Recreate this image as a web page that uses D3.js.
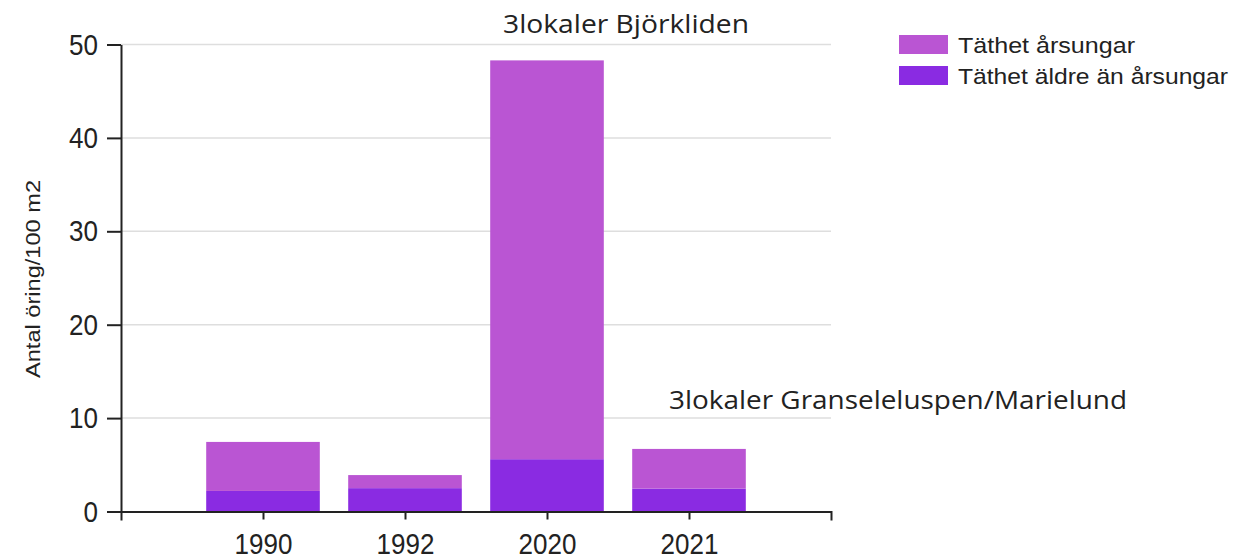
<!DOCTYPE html>
<html>
<head>
<meta charset="utf-8">
<script src="https://cdn.jsdelivr.net/npm/d3@7"></script>
<style>
  body { margin: 0; background: #fff; }
  text { font-family: "Liberation Sans", Arial, sans-serif; fill: #222; }
</style>
</head>
<body>
<div id="chart"></div>
<script>
const years = ["1990", "1992", "2020", "2021"];
const aldre = [2.2, 2.5, 5.6, 2.45];      // Täthet äldre än årsungar (bottom)
const arsungar = [5.25, 1.4, 42.7, 4.25]; // Täthet årsungar (top)
const yTicks = [0, 10, 20, 30, 40, 50];
const seriesNames = ["Täthet årsungar", "Täthet äldre än årsungar"];
const seriesColors = ["#BA55D3", "#8A2BE2"];

const width = 1235,
  height = 560;

const svg = d3.select("#chart").append("svg").attr("width", width).attr("height", height);

// the source image is a bit stretched vertically: measure text at its normal size,
// then draw it taller but squeeze it back to that width
function tallText(sel, size, tall) {
  sel.attr("font-size", size).each(function () {
    const w = this.getComputedTextLength();
    d3.select(this).attr("font-size", tall).attr("textLength", w).attr("lengthAdjust", "spacingAndGlyphs");
  });
}

const x = d3.scalePoint().domain(years).range([121, 831]).padding(1);
const y = d3.scaleLinear().domain([0, 50]).range([511.5, 44.5]);
const barW = x.step() * 0.8;

// gridlines
svg
  .append("g")
  .selectAll("line")
  .data(yTicks.slice(1))
  .join("line")
  .attr("x1", 121)
  .attr("x2", 831)
  .attr("y1", d => y(d))
  .attr("y2", d => y(d))
  .attr("stroke", "#dedede")
  .attr("stroke-width", 1.5);

// stacked bars
const rows = years.map((yr, i) => ({ year: yr, aldre: aldre[i], arsungar: arsungar[i] }));
const stack = d3.stack().keys(["aldre", "arsungar"])(rows);
const colorOf = { aldre: seriesColors[1], arsungar: seriesColors[0] };

svg
  .append("g")
  .selectAll("g")
  .data(stack)
  .join("g")
  .attr("fill", d => colorOf[d.key])
  .selectAll("rect")
  .data(d => d)
  .join("rect")
  .attr("x", d => x(d.data.year) - barW / 2)
  .attr("width", barW)
  .attr("y", d => y(d[1]))
  .attr("height", d => y(d[0]) - y(d[1]));

// x axis
const xAxis = svg
  .append("g")
  .attr("transform", `translate(0,${y(0)})`)
  .call(d3.axisBottom(x).tickSize(8).tickSizeOuter(9).tickPadding(13));
xAxis.select(".domain").attr("stroke", "#222").attr("stroke-width", 2);
xAxis.selectAll(".tick line").attr("stroke", "#222").attr("stroke-width", 2);
xAxis.selectAll("text").attr("fill", "#222").style("font-family", "Liberation Sans, Arial, sans-serif");
tallText(xAxis.selectAll("text"), 26, 30);

// y axis
const yAxis = svg
  .append("g")
  .attr("transform", "translate(121,0)")
  .call(d3.axisLeft(y).tickValues(yTicks).tickSize(14).tickSizeOuter(0).tickPadding(9));
yAxis.select(".domain").attr("stroke", "#222").attr("stroke-width", 2);
yAxis.selectAll(".tick line").attr("stroke", "#222").attr("stroke-width", 2);
yAxis.selectAll("text").attr("fill", "#222").style("font-family", "Liberation Sans, Arial, sans-serif");
tallText(yAxis.selectAll("text"), 26, 30);

// y title
svg
  .append("text")
  .attr("transform", "translate(40,279) rotate(-90)")
  .attr("text-anchor", "middle")
  .attr("font-size", 20)
  .attr("textLength", 198)
  .attr("lengthAdjust", "spacingAndGlyphs")
  .text("Antal öring/100 m2");

// titles
svg
  .append("text")
  .attr("x", 503)
  .attr("y", 33)
  .attr("font-size", 25)
  .style("font-family", "'Open Sans', sans-serif")
  .attr("fill", "#000")
  .attr("textLength", 246)
  .attr("lengthAdjust", "spacingAndGlyphs")
  .text("3lokaler Björkliden");

svg
  .append("text")
  .attr("x", 669)
  .attr("y", 409)
  .attr("font-size", 25)
  .style("font-family", "'Open Sans', sans-serif")
  .attr("fill", "#000")
  .attr("textLength", 458)
  .attr("lengthAdjust", "spacingAndGlyphs")
  .text("3lokaler Granseleluspen/Marielund");

// legend
const legendWidths = [177, 270];
const legend = svg
  .append("g")
  .selectAll("g")
  .data(seriesNames)
  .join("g")
  .attr("transform", (d, i) => `translate(899,${35 + i * 31})`);
legend
  .append("rect")
  .attr("width", 49)
  .attr("height", 19)
  .attr("fill", (d, i) => seriesColors[i]);
legend
  .append("text")
  .attr("x", 59)
  .attr("y", 18)
  .attr("font-size", 22)
  .attr("textLength", (d, i) => legendWidths[i])
  .attr("lengthAdjust", "spacingAndGlyphs")
  .text(d => d);
</script>
</body>
</html>
